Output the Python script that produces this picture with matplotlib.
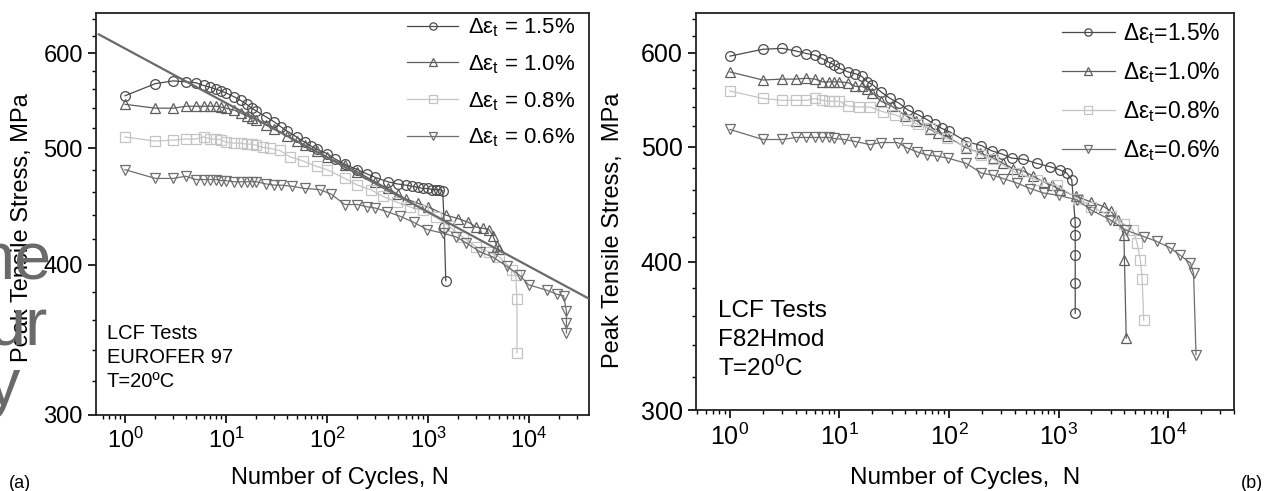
import matplotlib
matplotlib.use("Agg")
import matplotlib.pyplot as plt
from matplotlib.ticker import FixedLocator, NullFormatter, LogLocator, FixedFormatter

plt.rcParams['font.family'] = ['Liberation Sans', 'DejaVu Sans']
plt.rcParams['mathtext.fontset'] = 'custom'
plt.rcParams['mathtext.rm'] = 'Liberation Sans'
plt.rcParams['mathtext.it'] = 'Liberation Sans'
plt.rcParams['mathtext.sf'] = 'Liberation Sans'
plt.rcParams['mathtext.default'] = 'regular'

# ---------------- data: (a) EUROFER 97 ----------------
a15_n = [1,2,3,4,5,6,7,8,9,10,12,14,16,18,20,25,30,35,40,50,60,70,80,100,120,150,200,250,300,400,500,600,700,800,900,1000,1100,1200,1300,1400,1450,1500]
a15_s = [553,566,569,568,567,564,562,560,558,556,552,548,544,540,537,531,526,521,517,511,506,502,499,495,490,485,480,476,473,469,467,466,465,464,463,463,462,462,462,461,430,388]
a10_n = [1,2,3,4,5,6,7,8,9,10,12,14,16,18,20,25,30,40,50,60,80,100,150,200,300,400,500,600,800,1000,1500,2000,2500,3000,3500,4000,4400,4800,5000]
a10_s = [544,540,540,542,542,542,542,542,541,540,538,535,532,530,528,523,519,512,507,503,497,492,484,478,469,463,458,454,450,447,440,437,434,430,429,428,423,415,412]
a08_n = [1,2,3,4,5,6,7,8,9,10,12,14,16,18,20,23,27,34,43,58,79,100,150,200,270,360,490,660,900,1200,1600,2200,3000,4000,5100,6800,7400,7600,7600]
a08_s = [511,507,508,509,509,511,509,509,508,506,505,505,504,504,503,501,500,498,492,488,483,480,472,466,462,456,451,447,444,438,431,422,414,410,406,396,392,375,338]
a06_n = [1,2,3,4,5,6,7,8,9,10,12,14,16,18,20,25,30,35,45,60,85,110,150,200,250,300,390,530,720,980,1400,1900,2400,3300,4400,6000,8100,9900,15000,19000,22000,23500,23500,23500]
a06_s = [480,472,472,474,471,471,471,471,470,470,469,469,469,469,469,467,466,466,465,463,462,458,449,449,447,446,443,439,434,428,425,422,417,410,406,399,392,385,381,378,377,366,358,351]
fit_n = [0.55, 39000]
fit_s = [622, 375]

# ---------------- data: (b) F82Hmod ----------------
b15_n = [1,2,3,4,5,6,7,8,9,10,12,14,16,18,20,24,29,35,42,52,63,74,86,100,144,198,245,303,373,478,633,836,1030,1190,1320,1420,1420,1420,1420,1420]
b15_s = [596,604,605,602,599,597,593,589,586,582,578,576,573,567,564,556,549,544,537,532,527,522,518,515,505,501,496,493,489,488,484,481,478,475,469,432,421,405,384,362]
b10_n = [1,2,3,4,5,6,7,8,9,10,12,14,16,18,20,24,30,40,50,67,80,95,144,192,254,313,387,478,590,730,866,1030,1450,2000,2600,3000,3500,3950,4000,4150]
b10_s = [578,569,570,570,571,570,567,567,567,567,566,562,562,559,555,546,541,531,526,517,513,510,499,494,489,484,479,477,472,467,464,460,454,449,445,441,434,421,401,345]
b08_n = [1,2,3,4,5,6,7,8,9,10,12,15,19,25,32,41,52,67,95,144,198,254,415,633,960,1500,2000,3000,4000,4800,5200,5600,5800,6000]
b08_s = [557,549,547,547,547,549,547,546,546,546,541,540,540,535,532,527,522,518,508,500,492,488,475,469,464,452,445,437,430,425,415,401,387,357]
b06_n = [1,2,3,4,5,6,7,8,9,11,14,19,24,34,41,51,63,77,98,144,198,254,313,415,552,730,1000,1470,2000,2950,4170,6000,7900,10400,12900,16000,17100,18000]
b06_s = [517,507,507,509,509,509,509,509,508,507,505,502,504,504,499,495,492,491,489,484,475,473,470,466,461,457,455,451,442,434,425,420,416,411,405,399,391,334]

labels_a = ['1.5%', '1.0%', '0.8%', '0.6%']
y_major = [300, 400, 500, 600]
y_minor = [320, 340, 360, 380, 420, 440, 460, 480, 520, 540, 560, 580, 620, 640]

styles = [dict(marker='o', color='#4a4a4a'),
          dict(marker='^', color='#5e5e5e'),
          dict(marker='s', color='#c4c4c4'),
          dict(marker='v', color='#6e6e6e')]

fig = plt.figure(figsize=(12.66, 4.91), dpi=100)
ax1 = fig.add_axes([96/1266, 1-415/491, (589-96)/1266, (415-13)/491])
ax2 = fig.add_axes([696/1266, 1-410/491, (1234-696)/1266, (410-13)/491])


def style_axes(ax, xlim, fs):
    ax.set_xscale('log')
    ax.set_yscale('log')
    ax.set_xlim(*xlim)
    ax.set_ylim(300, 648)
    ax.yaxis.set_major_locator(FixedLocator(y_major))
    ax.yaxis.set_major_formatter(FixedFormatter([str(v) for v in y_major]))
    ax.yaxis.set_minor_locator(FixedLocator(y_minor))
    ax.yaxis.set_minor_formatter(NullFormatter())
    ax.xaxis.set_major_locator(LogLocator(base=10, numticks=10))
    ax.xaxis.set_minor_locator(LogLocator(base=10, subs=range(2, 10), numticks=20))
    ax.xaxis.set_minor_formatter(NullFormatter())
    ax.tick_params(which='major', direction='out', length=5.5, width=1.2,
                   labelsize=fs, pad=4, top=False, right=False)
    ax.tick_params(which='minor', direction='out', length=3, width=1.0,
                   top=False, right=False)
    for sp in ax.spines.values():
        sp.set_linewidth(1.3)
        sp.set_color('#222222')


def draw_series(ax, ns, ss, labels, prefix):
    for n, s, st, lab in zip(ns, ss, styles, labels):
        ax.plot(n, s, linestyle='-', linewidth=0.9, marker=st['marker'],
                markersize=7, markerfacecolor='none', markeredgewidth=0.9,
                color=st['color'], label=prefix + lab)


# Panel (a)
draw_series(ax1, [a15_n, a10_n, a08_n, a06_n], [a15_s, a10_s, a08_s, a06_s],
            labels_a, r'$\Delta\varepsilon_{t}$ = ')
ax1.plot(fit_n, fit_s, color='#6a6a6a', linewidth=1.6, zorder=5)
style_axes(ax1, (0.516, 39300), 17)
ax1.legend(loc='upper right', bbox_to_anchor=(1.0, 1.025), frameon=False,
           fontsize=16, handlelength=2.3, handletextpad=0.45, labelspacing=0.64,
           markerscale=0.75, borderaxespad=0.2)
ax1.text(0.022, 0.19, 'LCF Tests', transform=ax1.transAxes, fontsize=14.5, va='baseline')
ax1.text(0.022, 0.13, 'EUROFER 97', transform=ax1.transAxes, fontsize=14.5, va='baseline')
ax1.text(0.022, 0.07, 'T=20ºC', transform=ax1.transAxes, fontsize=14.5, va='baseline')

# Panel (b)
draw_series(ax2, [b15_n, b10_n, b08_n, b06_n], [b15_s, b10_s, b08_s, b06_s],
            labels_a, r'$\Delta\varepsilon_{t}$=')
style_axes(ax2, (0.49, 40000), 18)
ax2.legend(loc='upper right', bbox_to_anchor=(1.0, 1.015), frameon=False,
           fontsize=16.5, handlelength=2.3, handletextpad=0.35, labelspacing=0.62,
           markerscale=0.75, borderaxespad=0.2)
ax2.text(0.04, 0.235, 'LCF Tests', transform=ax2.transAxes, fontsize=17.5, va='baseline')
ax2.text(0.04, 0.16, 'F82Hmod', transform=ax2.transAxes, fontsize=17.5, va='baseline')
ax2.text(0.04, 0.085, r'T=20$^{0}$C', transform=ax2.transAxes, fontsize=17.5, va='baseline')

# Axis labels
fig.text(22/1266, 1-228/491, 'Peak Tensile Stress, MPa', rotation=90,
         ha='center', va='center', fontsize=17)
fig.text(613/1266, 1-230/491, 'Peak Tensile Stress,  MPa', rotation=90,
         ha='center', va='center', fontsize=17)
fig.text(340/1266, 1-478/491, 'Number of Cycles, N', ha='center', va='center', fontsize=17)
fig.text(965/1266, 1-478/491, 'Number of Cycles,  N', ha='center', va='center', fontsize=17.5)
fig.text(20/1266, 1-483/491, '(a)', ha='center', va='center', fontsize=13)
fig.text(1252/1266, 1-483/491, '(b)', ha='center', va='center', fontsize=13)

# overlay text fragments visible on the left edge of the picture
fig.text(52/1266, 1-280/491, 'ne', ha='right', va='baseline', fontsize=48, color='#6a6a6a', zorder=10)
fig.text(48/1266, 1-345/491, 'ur', ha='right', va='baseline', fontsize=48, color='#6a6a6a', zorder=10)
fig.text(20/1266, 1-405/491, 'y', ha='right', va='baseline', fontsize=48, color='#6a6a6a', zorder=10)

fig.savefig('out.png', dpi=100)
